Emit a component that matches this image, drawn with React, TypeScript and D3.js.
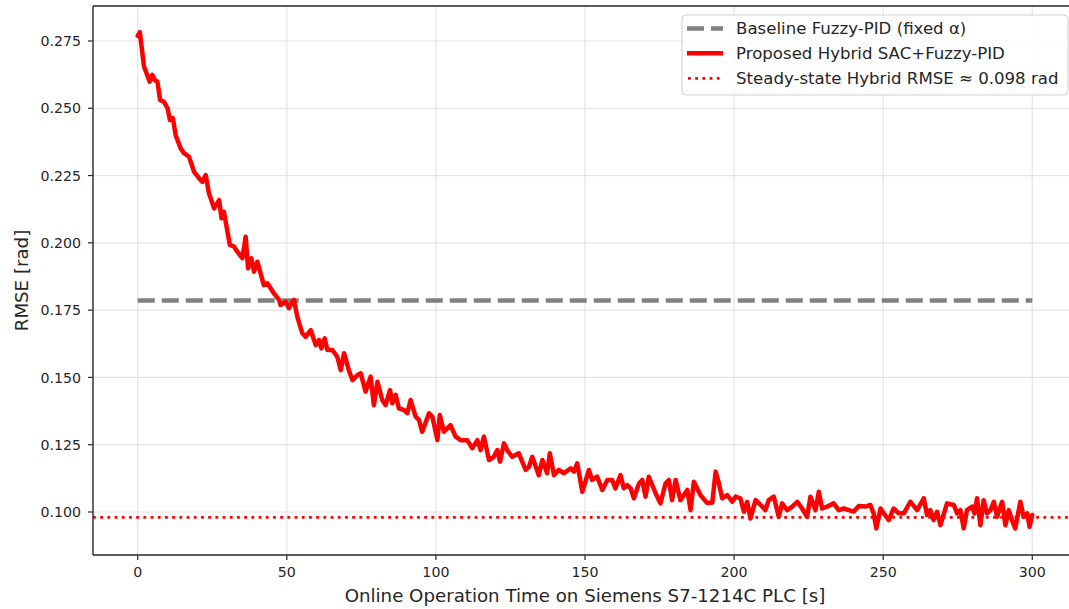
import React from "react";
import * as d3 from "d3";

const timeS = [0, 0.7, 2.1, 4.0, 4.9, 5.7, 6.6, 7.5, 8.8, 10.0, 10.8, 11.8, 12.7, 14.4, 15.5, 17.2, 18.9, 21.1, 21.7, 22.8, 23.9, 25.6, 27.3, 28.1, 28.9, 30.9, 32.3, 33.4, 35.1, 36.2, 37.0, 38.1, 39.0, 40.1, 42.3, 43.5, 45.7, 47.4, 47.9, 49.6, 50.7, 51.9, 52.4, 53.5, 55.2, 56.3, 58.0, 59.7, 60.8, 61.6, 62.7, 63.6, 65.3, 66.9, 68.1, 69.2, 70.8, 72.0, 73.7, 74.8, 76.4, 78.1, 79.2, 80.4, 82.0, 83.1, 84.6, 85.4, 86.5, 87.6, 89.3, 90.4, 91.5, 93.2, 94.3, 95.4, 97.7, 98.8, 100.5, 101.3, 102.7, 104.9, 106.6, 108.3, 110.5, 112.2, 113.9, 115.0, 116.1, 117.8, 119.4, 120.6, 121.5, 122.8, 123.9, 125.6, 127.8, 130.1, 131.2, 132.3, 134.5, 135.7, 137.3, 138.2, 139.6, 141.2, 142.9, 145.2, 146.3, 147.4, 149.1, 151.3, 152.4, 154.1, 155.8, 157.5, 159.1, 160.2, 161.9, 163.0, 164.2, 165.3, 166.4, 168.1, 169.2, 170.3, 171.4, 173.7, 175.3, 177.0, 178.1, 179.2, 180.4, 182.0, 184.3, 185.4, 186.5, 188.7, 191.0, 192.7, 193.8, 194.9, 196.0, 197.7, 199.4, 200.5, 202.1, 203.3, 204.4, 205.5, 207.2, 208.9, 210.5, 211.6, 213.3, 215.0, 216.1, 217.8, 219.5, 221.2, 222.8, 224.5, 225.6, 227.3, 228.4, 229.5, 231.2, 233.4, 235.1, 236.8, 238.5, 240.1, 241.8, 244.1, 245.7, 246.8, 247.7, 249.1, 250.2, 251.9, 253.5, 255.2, 256.9, 259.1, 261.4, 263.6, 264.7, 265.8, 266.9, 268.1, 269.2, 271.4, 273.7, 274.8, 275.9, 277.0, 278.1, 279.8, 280.6, 281.5, 282.6, 283.7, 284.8, 286.0, 287.1, 288.2, 289.3, 289.9, 291.0, 292.1, 293.2, 294.3, 296.0, 297.1, 298.3, 299.1, 300];

const rmseHybrid = [0.2769, 0.2783, 0.2655, 0.2599, 0.2624, 0.2605, 0.2599, 0.2531, 0.2524, 0.2500, 0.2456, 0.2463, 0.2401, 0.2351, 0.2333, 0.2320, 0.2264, 0.2233, 0.2227, 0.2252, 0.2184, 0.2128, 0.2159, 0.2091, 0.2116, 0.1992, 0.1986, 0.1967, 0.1943, 0.2023, 0.1905, 0.1943, 0.1893, 0.1930, 0.1843, 0.1850, 0.1812, 0.1788, 0.1769, 0.1781, 0.1757, 0.1781, 0.1788, 0.1726, 0.1664, 0.1651, 0.1676, 0.1620, 0.1639, 0.1608, 0.1645, 0.1602, 0.1602, 0.1577, 0.1527, 0.1590, 0.1527, 0.1490, 0.1509, 0.1515, 0.1447, 0.1503, 0.1397, 0.1484, 0.1416, 0.1397, 0.1453, 0.1404, 0.1435, 0.1385, 0.1379, 0.1367, 0.1416, 0.1354, 0.1342, 0.1298, 0.1367, 0.1354, 0.1267, 0.1360, 0.1298, 0.1323, 0.1280, 0.1267, 0.1267, 0.1237, 0.1267, 0.1230, 0.1280, 0.1193, 0.1205, 0.1230, 0.1187, 0.1255, 0.1230, 0.1205, 0.1218, 0.1156, 0.1168, 0.1205, 0.1137, 0.1193, 0.1144, 0.1218, 0.1137, 0.1156, 0.1144, 0.1162, 0.1150, 0.1181, 0.1075, 0.1156, 0.1119, 0.1131, 0.1082, 0.1119, 0.1119, 0.1088, 0.1137, 0.1088, 0.1100, 0.1088, 0.1051, 0.1106, 0.1119, 0.1057, 0.1131, 0.1069, 0.1032, 0.1106, 0.1119, 0.1044, 0.1119, 0.1044, 0.1082, 0.1007, 0.1112, 0.1063, 0.1033, 0.1035, 0.1150, 0.1106, 0.1051, 0.1063, 0.1038, 0.1057, 0.1051, 0.1001, 0.1038, 0.0976, 0.1044, 0.1026, 0.1007, 0.1044, 0.1057, 0.0982, 0.1032, 0.1007, 0.1020, 0.1038, 0.1013, 0.0982, 0.1057, 0.1007, 0.1075, 0.1013, 0.1020, 0.1032, 0.1007, 0.1013, 0.1007, 0.1001, 0.1022, 0.1020, 0.1026, 0.0995, 0.0939, 0.1013, 0.0995, 0.0970, 0.1013, 0.0995, 0.0995, 0.1038, 0.1007, 0.1051, 0.0989, 0.1007, 0.0970, 0.1001, 0.0951, 0.1032, 0.1026, 0.0995, 0.1007, 0.0939, 0.1007, 0.1020, 0.0995, 0.1051, 0.0951, 0.1044, 0.0995, 0.1007, 0.1038, 0.0982, 0.1020, 0.1038, 0.0951, 0.1007, 0.0970, 0.0939, 0.1038, 0.0982, 0.0995, 0.0945, 0.0989];

const baselineRmse = 0.1786;
const baselineSpan = [0, 300];
const steadyRmse = 0.098;

const xTicks = [0, 50, 100, 150, 200, 250, 300];
const yTicks = [0.1, 0.125, 0.15, 0.175, 0.2, 0.225, 0.25, 0.275];

const legendLabels = [
  "Baseline Fuzzy-PID (fixed α)",
  "Proposed Hybrid SAC+Fuzzy-PID",
  "Steady-state Hybrid RMSE ≈ 0.098 rad",
];

const W = 1069;
const H = 609;
const FONT = "'DejaVu Sans', sans-serif";

export default function App() {
  const left = 93, right = 1077, top = 6, bottom = 555;
  const x = d3.scaleLinear().domain([-15, 315]).range([left, right]);
  const y = d3.scaleLinear().domain([0.08402, 0.288]).range([bottom, top]);

  const pts = timeS.map((t, i) => [t, rmseHybrid[i]] as [number, number]);
  const line = d3
    .line<[number, number]>()
    .x((d) => x(d[0]))
    .y((d) => y(d[1]));

  const legX = 682, legY = 15, legW = 386, legH = 80;
  const rowY = [28.5, 53.3, 78.3];

  return (
    <div style={{ position: "absolute", left: 0, top: 0 }}>
      <svg width={W} height={H} style={{ display: "block" }}>
        <rect x={0} y={0} width={W} height={H} fill="#fff" />
        <defs>
          <clipPath id="plotclip">
            <rect x={left} y={top} width={right - left} height={bottom - top} />
          </clipPath>
        </defs>
        {xTicks.map((t) => (
          <line key={"gx" + t} x1={x(t)} x2={x(t)} y1={top} y2={bottom} stroke="#e4e4e4" strokeWidth={1.2} />
        ))}
        {yTicks.map((t) => (
          <line key={"gy" + t} x1={left} x2={right} y1={y(t)} y2={y(t)} stroke="#e4e4e4" strokeWidth={1.2} />
        ))}
        <g clipPath="url(#plotclip)">
          <line
            x1={x(baselineSpan[0])}
            x2={x(baselineSpan[1])}
            y1={y(baselineRmse)}
            y2={y(baselineRmse)}
            stroke="#808080"
            strokeWidth={4.6}
            strokeDasharray="17 7"
          />
          <path d={line(pts) || ""} fill="none" stroke="#ff0000" strokeWidth={4.5} strokeLinejoin="round" strokeLinecap="round" />
          <line
            x1={left}
            x2={right}
            y1={y(steadyRmse)}
            y2={y(steadyRmse)}
            stroke="#ff0000"
            strokeWidth={2.8}
            strokeDasharray="2.8 4.4"
          />
        </g>
        <line x1={left} x2={left} y1={top} y2={bottom} stroke="#262626" strokeWidth={1.4} />
        <line x1={left} x2={right} y1={bottom} y2={bottom} stroke="#262626" strokeWidth={1.4} />
        <line x1={left} x2={right} y1={top} y2={top} stroke="#262626" strokeWidth={1.4} />
        <line x1={right} x2={right} y1={top} y2={bottom} stroke="#262626" strokeWidth={1.4} />
        {xTicks.map((t) => (
          <g key={"xt" + t}>
            <line x1={x(t)} x2={x(t)} y1={bottom} y2={bottom + 5} stroke="#262626" strokeWidth={1.2} />
            <text x={x(t)} y={577} textAnchor="middle" fontSize={14.2} fontFamily={FONT} fill="#262626">
              {t}
            </text>
          </g>
        ))}
        {yTicks.map((t) => (
          <g key={"yt" + t}>
            <line x1={left - 5} x2={left} y1={y(t)} y2={y(t)} stroke="#262626" strokeWidth={1.2} />
            <text x={81} y={y(t)} dy="0.36em" textAnchor="end" fontSize={14.2} fontFamily={FONT} fill="#262626">
              {d3.format(".3f")(t)}
            </text>
          </g>
        ))}
        <text x={(left + right) / 2} y={602} textAnchor="middle" fontSize={18.2} fontFamily={FONT} fill="#262626">
          Online Operation Time on Siemens S7-1214C PLC [s]
        </text>
        <text
          transform={`translate(28, ${(top + bottom) / 2}) rotate(-90)`}
          textAnchor="middle"
          fontSize={18.2}
          fontFamily={FONT}
          fill="#262626"
        >
          RMSE [rad]
        </text>
        <rect x={legX} y={legY} width={legW} height={legH} rx={4} fill="#fff" fillOpacity={0.85} stroke="#d0d0d0" strokeWidth={1} />
        <line x1={687} x2={723} y1={rowY[0]} y2={rowY[0]} stroke="#808080" strokeWidth={4.6} strokeDasharray="17 7" />
        <line x1={687} x2={723} y1={rowY[1]} y2={rowY[1]} stroke="#ff0000" strokeWidth={4.5} />
        <line x1={688} x2={723} y1={rowY[2]} y2={rowY[2]} stroke="#ff0000" strokeWidth={2.8} strokeDasharray="2.8 4.4" />
        {legendLabels.map((l, i) => (
          <text key={l} x={736} y={rowY[i]} dy="0.36em" fontSize={16.6} fontFamily={FONT} fill="#262626">
            {l}
          </text>
        ))}
      </svg>
    </div>
  );
}
